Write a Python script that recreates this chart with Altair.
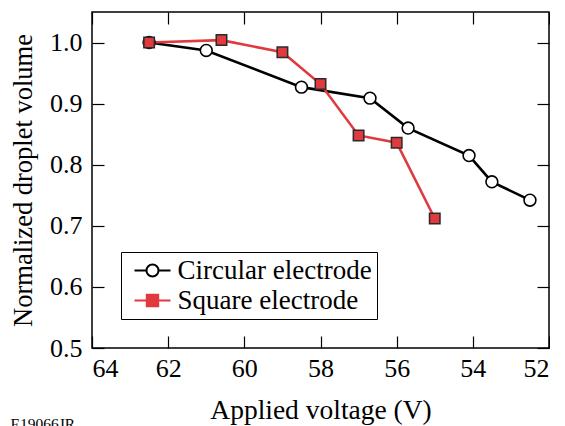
import altair as alt
import pandas as pd

circ_v = [62.5, 61.0, 58.5, 56.7, 55.7, 54.1, 53.5, 52.5]
circ_y = [1.000, 0.987, 0.927, 0.909, 0.860, 0.815, 0.772, 0.742]
sq_v = [62.5, 60.6, 59.0, 58.0, 57.0, 56.0, 55.0]
sq_y = [1.000, 1.004, 0.984, 0.932, 0.848, 0.836, 0.712]
series = ["Circular electrode", "Square electrode"]
x_ticks = [64, 62, 60, 58, 56, 54, 52]
y_ticks = [0.5, 0.6, 0.7, 0.8, 0.9, 1.0]

RED = "#e0393e"
FONT = "Liberation Serif"

df = pd.DataFrame(
    {"v": circ_v + sq_v,
     "y": circ_y + sq_y,
     "s": [series[0]] * len(circ_v) + [series[1]] * len(sq_v)}
)

xs = alt.Scale(domain=[52, 64], reverse=True, nice=False, zero=False)
ys = alt.Scale(domain=[0.5, 1.05], nice=False, zero=False)

common_axis = dict(grid=False, domain=False, tickSize=12, offset=-12,
                   tickColor="black", tickWidth=1.2,
                   labelFont=FONT, labelFontSize=26, labelColor="black",
                   titleFont=FONT, titleColor="black",
                   titleFontWeight="normal")

x_bottom = alt.Axis(values=x_ticks, orient="bottom", labelPadding=7,
                    titlePadding=15, title="Applied voltage (V)",
                    titleFontSize=27.5, **common_axis)
y_left = alt.Axis(values=y_ticks, orient="left", format=".1f", labelPadding=10,
                  titlePadding=12, title="Normalized droplet volume",
                  titleFontSize=26.5, **common_axis)
x_top = alt.Axis(values=x_ticks, orient="top", labels=False, title=None, **common_axis)
y_right = alt.Axis(values=y_ticks, orient="right", labels=False, title=None, **common_axis)

base = alt.Chart(df)

lines = base.mark_line(strokeWidth=2.6).encode(
    x=alt.X("v:Q", scale=xs, axis=x_bottom),
    y=alt.Y("y:Q", scale=ys, axis=y_left),
    stroke=alt.Stroke("s:N", scale=alt.Scale(domain=series, range=["black", RED]), legend=None),
    detail="s:N",
)

circles = base.transform_filter(alt.datum.s == series[0]).mark_point(
    shape="circle", size=140, filled=False, fill="white", stroke="black",
    strokeWidth=1.6, opacity=1
).encode(
    x=alt.X("v:Q", scale=xs, axis=x_top),
    y=alt.Y("y:Q", scale=ys, axis=y_right),
)

squares = base.transform_filter(alt.datum.s == series[1]).mark_point(
    shape="square", size=110, filled=False, fill=RED, stroke="#2a2a2a",
    strokeWidth=1.5, opacity=1
).encode(
    x=alt.X("v:Q", scale=xs, axis=None),
    y=alt.Y("y:Q", scale=ys, axis=None),
)

circ_path = "M-3,0L-1,0M1,0L3,0M-1,0A1,1,0,1,1,1,0A1,1,0,1,1,-1,0Z"
sq_path = "M-3,0L-0.95,0M0.95,0L3,0M-0.95,-0.95L0.95,-0.95L0.95,0.95L-0.95,0.95Z"

leg = alt.Legend(title=None, orient="bottom-left", offset=29,
                 strokeColor="black", fillColor="white", padding=5,
                 symbolOffset=13, labelOffset=11.5, rowPadding=2,
                 symbolSize=144, symbolStrokeWidth=2, symbolOpacity=1,
                 labelFont=FONT, labelFontSize=27, labelColor="black",
                 labelLimit=400)

legend_layer = base.mark_point(opacity=0, filled=False, size=144).encode(
    x=alt.X("v:Q", scale=xs, axis=None),
    y=alt.Y("y:Q", scale=ys, axis=None),
    shape=alt.Shape("s:N", scale=alt.Scale(domain=series, range=[circ_path, sq_path]), legend=leg),
    fill=alt.Fill("s:N", scale=alt.Scale(domain=series, range=["white", RED]), legend=leg),
    stroke=alt.Stroke("s:N", legend=leg),
)

chart = alt.layer(legend_layer, lines, circles, squares).resolve_axis(
    x="independent", y="independent"
).properties(
    width=457, height=336,
    padding={"left": 2, "top": 3, "right": 0, "bottom": 0},
    title=alt.TitleParams("E19066JR", orient="bottom", anchor="start", frame="bounds",
                          font=FONT, fontSize=15.5, fontWeight="normal", color="black",
                          offset=-7, dx=0),
).configure_view(stroke="black", strokeWidth=1.5)

chart.save("out.html", embed_options={"renderer": "svg", "actions": False})
